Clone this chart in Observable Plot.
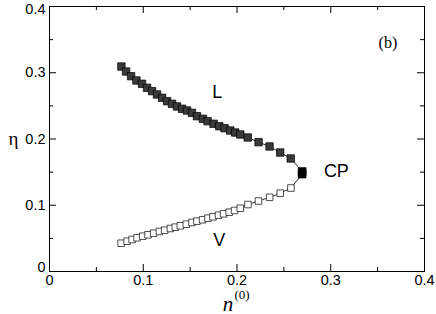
<!DOCTYPE html>
<html><head><meta charset="utf-8">
<script src="https://cdn.jsdelivr.net/npm/d3@7"></script>
<script src="https://cdn.jsdelivr.net/npm/@observablehq/plot@0.6"></script>
<style>body{margin:0;background:#fff}</style>
</head><body><div id="chart"></div>
<script>
// Liquid branch (filled squares)
const liquidN = [0.0767,0.0817,0.0870,0.0927,0.0987,0.1041,0.1094,0.1147,0.1201,0.1254,0.1307,0.1360,0.1414,0.1467,0.1520,0.1573,0.1637,0.1686,0.1750,0.1811,0.1867,0.1928,0.1981,0.2035,0.2115,0.2230,0.2347,0.2461,0.2573];
const liquidEta = [0.3094,0.3019,0.2948,0.2883,0.2833,0.2773,0.2722,0.2672,0.2622,0.2571,0.2531,0.2491,0.2456,0.2430,0.2395,0.2344,0.2305,0.2269,0.2230,0.2193,0.2163,0.2128,0.2098,0.2068,0.2023,0.1952,0.1887,0.1796,0.1706];
// Vapour branch (open squares)
const vaporN = [0.0764,0.0828,0.0881,0.0934,0.0994,0.1051,0.1111,0.1172,0.1228,0.1289,0.1342,0.1395,0.1459,0.1520,0.1573,0.1633,0.1690,0.1744,0.1803,0.1857,0.1917,0.1974,0.2035,0.2117,0.2229,0.2348,0.2461,0.2575];
const vaporEta = [0.0427,0.0457,0.0483,0.0509,0.0533,0.0554,0.0578,0.0604,0.0623,0.0649,0.0669,0.0690,0.0714,0.0740,0.0760,0.0781,0.0805,0.0826,0.0850,0.0871,0.0895,0.0921,0.0955,0.1011,0.1064,0.1120,0.1182,0.1260];
// Critical point
const criticalN = [0.2695,0.2695];
const criticalEta = [0.1510,0.1470];
// Axes
const xTicks = [0,0.1,0.2,0.3,0.4];
const yTicks = [0,0.1,0.2,0.3,0.4];
const yTicksMid = [0.1,0.2,0.3];
const yTickTop = [0.4];
const yTickBottom = [0];
const minorTicks = [0.05,0.15,0.25,0.35];
// Annotations
const labelText = ["L","CP","V"];
const labelN = [0.179,0.306,0.181];
const labelEta = [0.271,0.151,0.047];
const panelText = ["(b)"];
const panelN = [0.361];
const panelEta = [0.3457];

const liquid = liquidN.map((n,i)=>({n, eta: liquidEta[i]}));
const vapor = vaporN.map((n,i)=>({n, eta: vaporEta[i]}));
const critical = criticalN.map((n,i)=>({n, eta: criticalEta[i]}));
const path = [...liquid, ...critical, ...vapor.slice().reverse()];
const labels = labelText.map((t,i)=>({t, n: labelN[i], eta: labelEta[i]}));
const panel = panelText.map((t,i)=>({t, n: panelN[i], eta: panelEta[i]}));

const sans = "'Liberation Sans', Arial, Helvetica, sans-serif";
const serif = "'Liberation Serif', 'Times New Roman', serif";
const fmt = d => String(d);

const W = 436, H = 314, ML = 49, MR = 12, MT = 6, MB = 43;
const frameW = W - ML - MR, frameH = H - MT - MB;

// inward tick marks on all four sides, drawn as ticks inset within the frame
const inward = (data, side, len) => {
  const o = {stroke: "#000", strokeWidth: 1};
  if (side === "bottom") return Plot.tickX(data, {x: d => d, insetTop: frameH - len, ...o});
  if (side === "top") return Plot.tickX(data, {x: d => d, insetBottom: frameH - len, ...o});
  if (side === "left") return Plot.tickY(data, {y: d => d, insetRight: frameW - len, ...o});
  return Plot.tickY(data, {y: d => d, insetLeft: frameW - len, ...o});
};
const yLabels = (ticks, dy) => Plot.axisY({ticks, anchor: "left", tickSize: 0, tickPadding: 4, tickFormat: fmt, label: null, fontSize: 14.5, fill: "#000", dy});

const chart = Plot.plot({
  width: W, height: H,
  marginLeft: ML, marginRight: MR, marginTop: MT, marginBottom: MB,
  style: {fontFamily: sans, fontSize: "14px", background: "#fff", color: "#000"},
  x: {domain: [0, 0.4], axis: null},
  y: {domain: [0, 0.4], axis: null},
  marks: [
    Plot.frame({stroke: "#000", strokeWidth: 1}),
    inward(xTicks, "bottom", 7), inward(minorTicks, "bottom", 4),
    inward(xTicks, "top", 7), inward(minorTicks, "top", 4),
    inward(yTicks, "left", 7), inward(minorTicks, "left", 4),
    inward(yTicks, "right", 7), inward(minorTicks, "right", 4),
    Plot.axisX({ticks: xTicks, anchor: "bottom", tickSize: 0, tickPadding: 3, tickFormat: fmt, label: null, fontSize: 14.5, fill: "#000"}),
    yLabels(yTicksMid, 0), yLabels(yTickTop, 2.5), yLabels(yTickBottom, -4),
    Plot.line(path, {x: "n", y: "eta", stroke: "#000", strokeWidth: 0.8}),
    Plot.dot(vapor, {x: "n", y: "eta", symbol: "square", r: 3.7, fill: "#fff", stroke: "#222", strokeWidth: 0.8}),
    Plot.dot(liquid, {x: "n", y: "eta", symbol: "square", r: 4.2, fill: "#3a3a3a", stroke: "#000", strokeWidth: 0.7}),
    Plot.dot(critical, {x: "n", y: "eta", symbol: "square", r: 4.5, fill: "#000", stroke: "#000", strokeWidth: 0.5}),
    Plot.text(labels, {x: "n", y: "eta", text: "t", fontSize: 18, fontFamily: sans, fill: "#000"}),
    Plot.text(panel, {x: "n", y: "eta", text: "t", fontSize: 16, fontFamily: serif, fill: "#000"}),
    Plot.text(["η"], {text: d => d, frameAnchor: "left", dx: -41, fontSize: 19, fontFamily: serif, fill: "#000"}),
    Plot.text(["n"], {text: d => d, frameAnchor: "bottom", dx: -9, dy: 39, lineAnchor: "bottom", fontSize: 21, fontStyle: "italic", fontFamily: serif, fill: "#000"}),
    Plot.text(["(0)"], {text: d => d, frameAnchor: "bottom", dx: 5, dy: 27, lineAnchor: "bottom", fontSize: 13, fontFamily: serif, fill: "#000"})
  ]
});
document.getElementById("chart").appendChild(chart);
</script>
</body></html>
